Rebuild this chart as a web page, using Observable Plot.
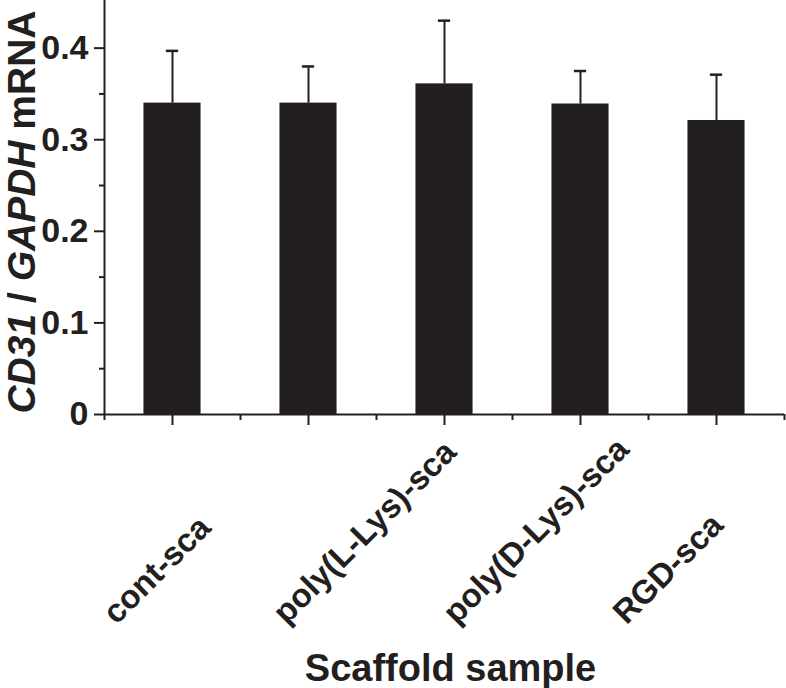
<!DOCTYPE html>
<html>
<head>
<meta charset="utf-8">
<script src="https://cdn.jsdelivr.net/npm/d3@7"></script>
<script src="https://cdn.jsdelivr.net/npm/@observablehq/plot@0.6"></script>
<style>
  html, body { margin: 0; padding: 0; background: #fff; }
</style>
</head>
<body>
<div id="chart"></div>
<script>
// Data
const labels = ["cont-sca", "poly(L-Lys)-sca", "poly(D-Lys)-sca", "RGD-sca"];
const means = [0.340, 0.340, 0.361, 0.339, 0.321];
const errors = [0.057, 0.040, 0.069, 0.036, 0.050];
const majorY = [0, 0.1, 0.2, 0.3, 0.4];
const minorY = [0.05, 0.15, 0.25, 0.35];
const yTitleParts = [["CD31", true], [" / ", false], ["GAPDH", true], [" mRNA", false]];
const xTitle = "Scaffold sample";

const ink = "#231f20";
const font = "'Liberation Sans', Arial, Helvetica, sans-serif";
const bars = means.map((m, i) => ({pos: i + 1, mean: m, err: errors[i]}));
const majorX = bars.map(d => d.pos);
const minorX = [0.5, ...bars.map(d => d.pos + 0.5)];
const halfBar = 0.21, halfCap = 0.045;

const svg = Plot.plot({
  width: 786,
  height: 688,
  marginLeft: 104,
  marginRight: 2,
  marginTop: 0,
  marginBottom: 274,
  style: {fontFamily: font, fontWeight: "bold", background: "#fff", color: ink},
  x: {type: "linear", domain: [0.5, 5.5], axis: null},
  y: {domain: [0, 0.452], axis: null},
  marks: [
    Plot.rect(bars, {x1: d => d.pos - halfBar, x2: d => d.pos + halfBar, y1: 0, y2: "mean", fill: ink}),
    Plot.ruleX(bars, {x: "pos", y1: "mean", y2: d => d.mean + d.err, stroke: ink, strokeWidth: 2}),
    Plot.ruleY(bars, {y: d => d.mean + d.err, x1: d => d.pos - halfCap, x2: d => d.pos + halfCap, stroke: ink, strokeWidth: 2.5}),
    Plot.ruleX([0.5], {stroke: ink, strokeWidth: 2}),
    Plot.ruleY([0], {stroke: ink, strokeWidth: 2}),
    Plot.axisY(majorY, {tickSize: 10, tickPadding: 6, strokeWidth: 2, stroke: ink, fill: ink, fontSize: 34, fontWeight: "bold",
      tickFormat: d => d === 0 ? "0" : d.toFixed(1), label: null}),
    Plot.axisY(minorY, {tickSize: 5, strokeWidth: 2, stroke: ink, tickFormat: () => "", label: null}),
    Plot.axisX(majorX, {tickSize: 11, strokeWidth: 2, stroke: ink, tickFormat: () => "", label: null}),
    Plot.axisX(minorX, {tickSize: 6, strokeWidth: 2, stroke: ink, tickFormat: () => "", label: null}),
    Plot.text(labels, {x: (d, i) => 1 + i * 1.25, frameAnchor: "bottom", rotate: -45, textAnchor: "start",
      lineAnchor: "bottom", dx: -56, dy: 211, fontSize: 33, fontWeight: "bold", fill: ink}),
    Plot.text([xTitle], {frameAnchor: "bottom", lineAnchor: "bottom", dx: 6, dy: 266, fontSize: 38, fontWeight: "bold", fill: ink})
  ]
});

// Y axis title with mixed italic (gene names) and upright text
const yScale = svg.scale("y");
const yMid = (yScale.apply(0) + yScale.apply(0.452)) / 2 + 5;
const t = d3.select(svg).append("text")
  .attr("transform", `translate(35,${yMid}) rotate(-90)`)
  .attr("text-anchor", "middle")
  .attr("font-family", font)
  .attr("font-weight", "bold")
  .attr("font-size", 39)
  .attr("fill", ink)
  .style("white-space", "pre");
yTitleParts.forEach(([s, it]) => {
  t.append("tspan").attr("font-style", it ? "italic" : "normal").text(s);
});

document.getElementById("chart").appendChild(svg);
</script>
</body>
</html>
